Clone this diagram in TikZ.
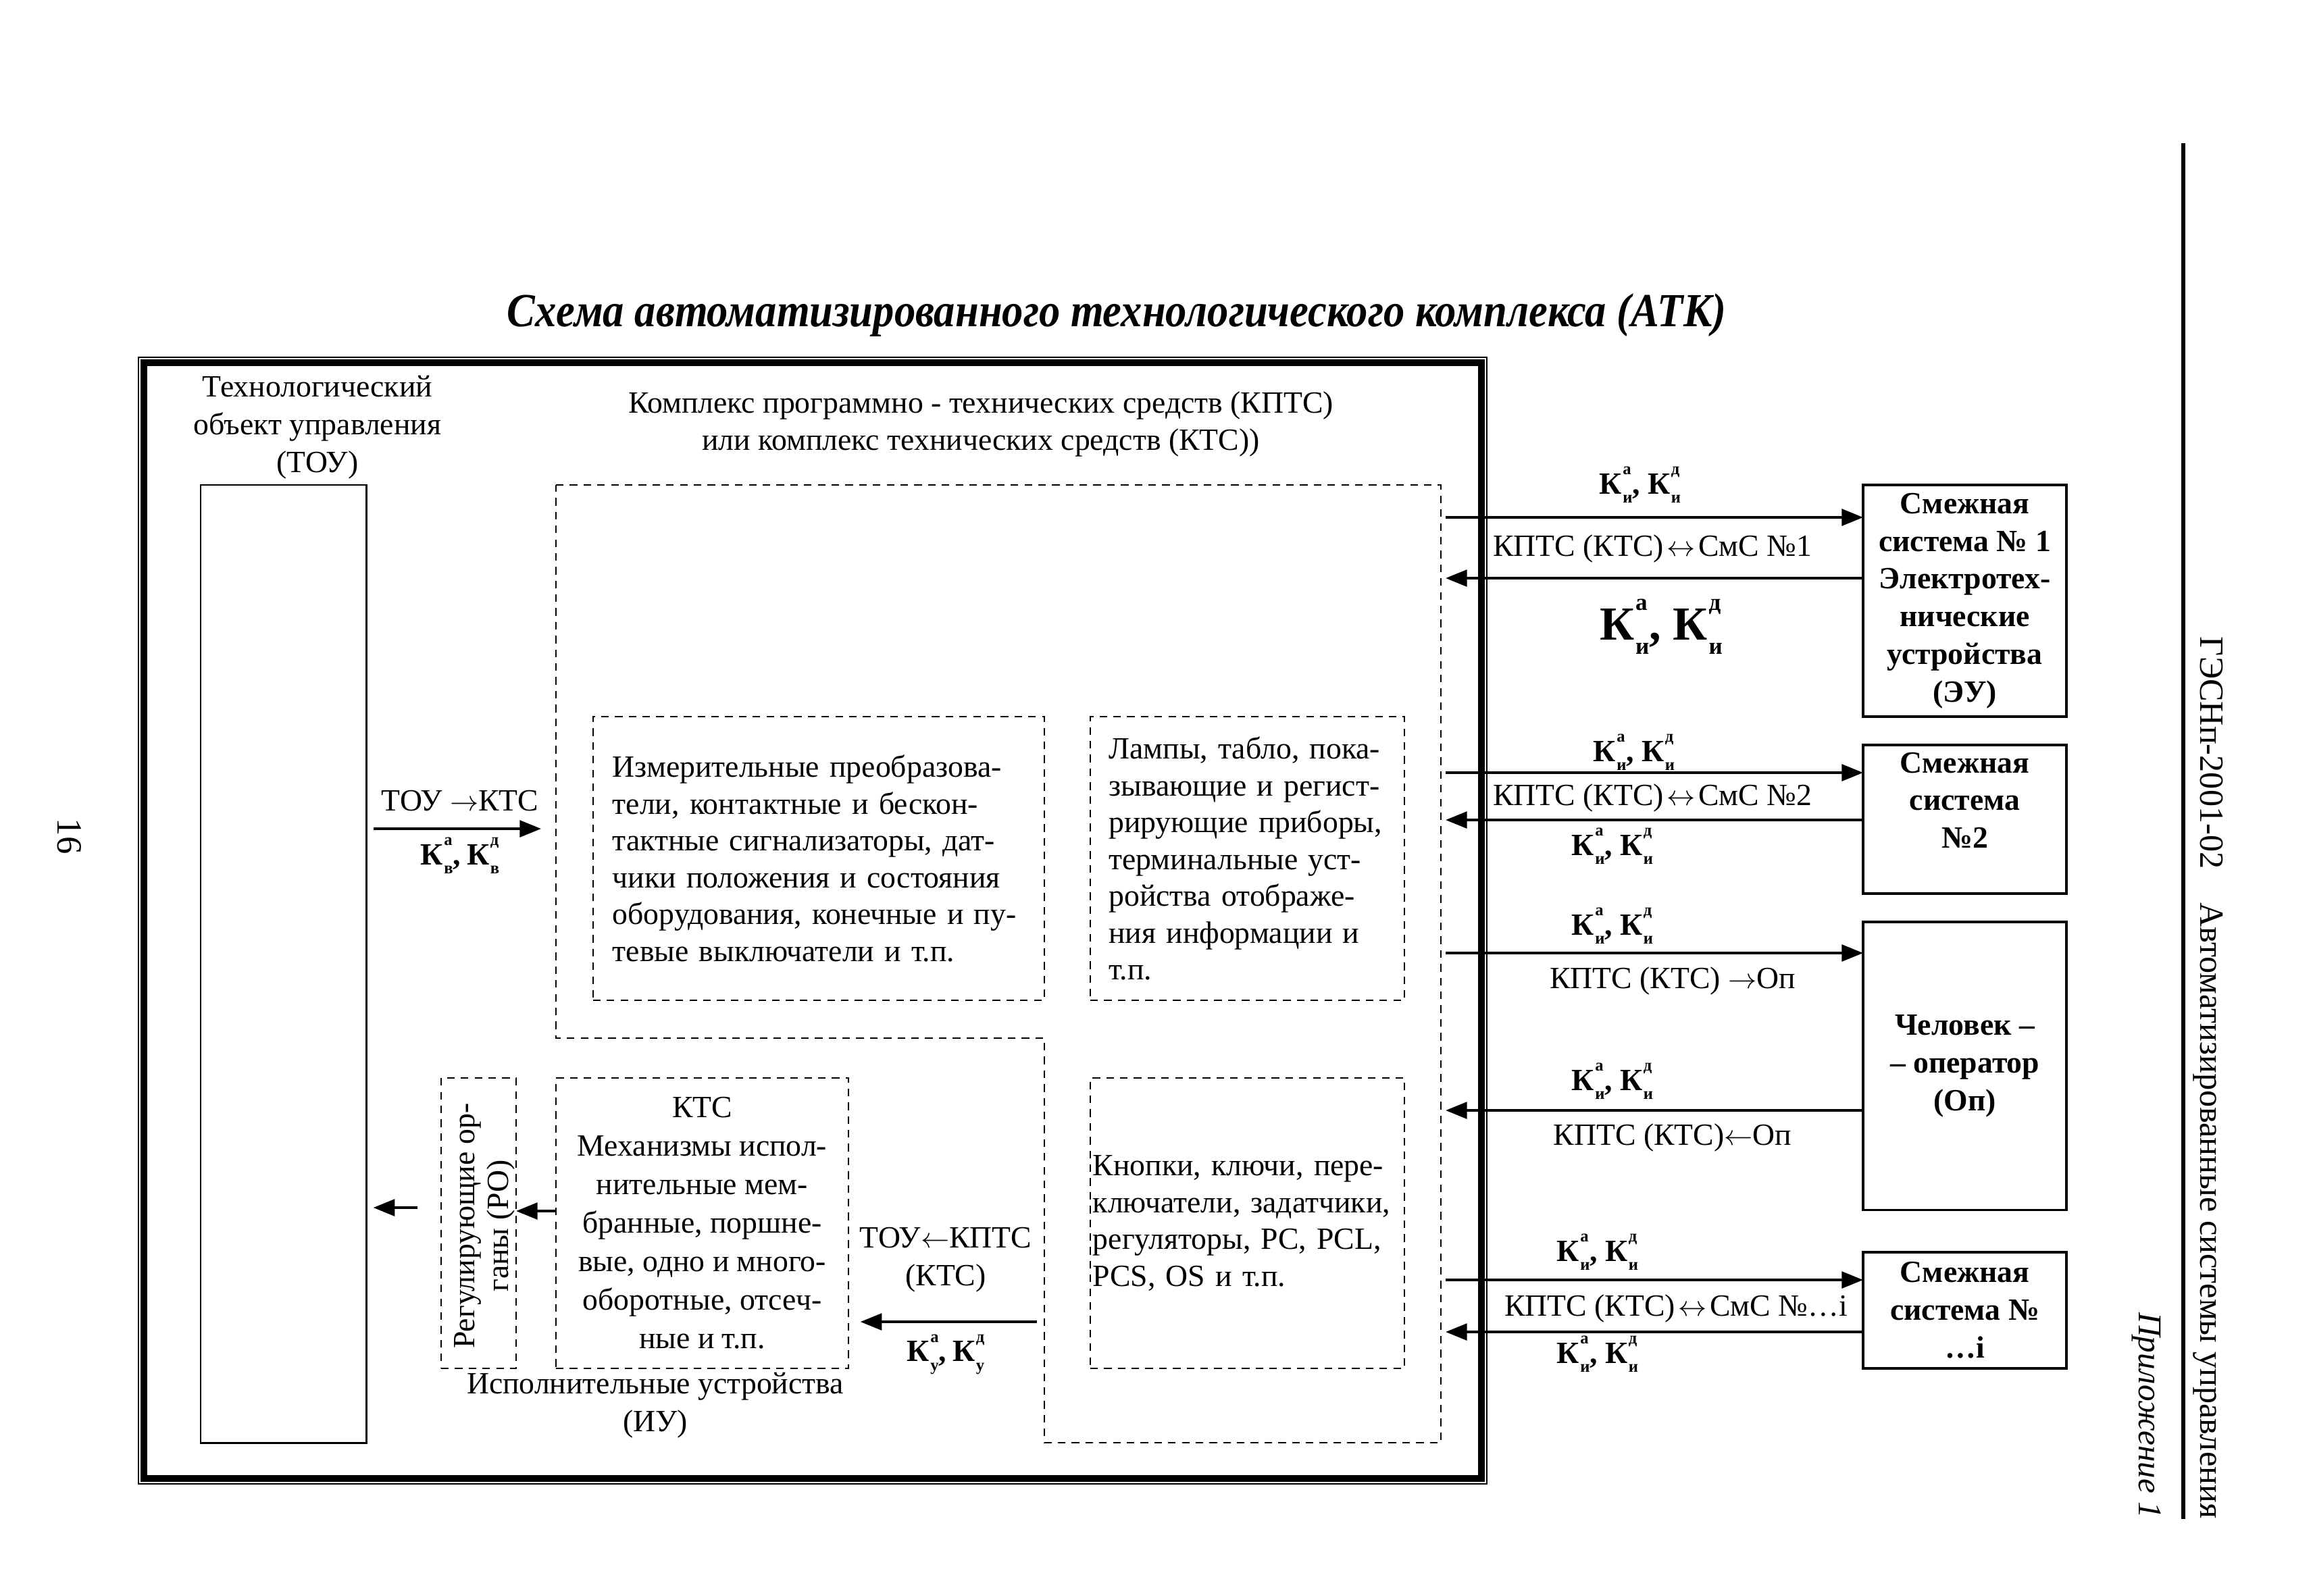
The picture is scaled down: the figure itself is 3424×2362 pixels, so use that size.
\documentclass[tikz,border=0pt]{standalone}
\usepackage{fontspec}
\setmainfont{Liberation Serif}
\newfontfamily\titlefont[FakeStretch=0.89]{Liberation Serif}
\usetikzlibrary{arrows.meta}
\newcommand\Kab[3][7]{\textbf{К}\kern.03em\rlap{\raisebox{.62em}{\fontsize{#1}{#1}\selectfont\bfseries #2}}\raisebox{-.3em}{\fontsize{#1}{#1}\selectfont\bfseries #3}}
\newcommand\KKi[1][7]{\Kab[#1]{а}{и}\textbf{,}\kern.25em\Kab[#1]{д}{и}}
\newcommand\LR{\kern.1em$\leftrightarrow$\kern.1em}
\newcommand\RA{$\rightarrow$}
\newcommand\LA{$\leftarrow$}
\tikzset{
  txt/.style={font=\fontsize{13}{15.9}\selectfont, inner sep=0pt, outer sep=0pt},
  btxt/.style={font=\fontsize{13}{15.9}\selectfont\bfseries, align=center, inner sep=0pt},
  dbox/.style={draw, line width=0.7pt, dash pattern=on 3.2pt off 2.6pt, inner sep=0pt, outer sep=0pt,
               font=\fontsize{13}{15.5}\selectfont},
  sbox/.style={draw, line width=1pt, inner sep=0pt, outer sep=0pt, minimum width=3.01cm, anchor=north west},
  arr/.style={line width=1.1pt, -{Triangle[length=9pt,width=7pt]}},
}
\begin{document}
\begin{tikzpicture}[x=0.01cm,y=-0.01cm]
\useasboundingbox (0,0) rectangle (3424,2362);
\fill[white] (0,0) rectangle (3424,2362);

% title
\node[font=\fontsize{20}{24}\selectfont\titlefont\bfseries\itshape] (title) at (1653,467)
  {Схема автоматизированного технологического комплекса (АТК)};

% frame
\draw[line width=0.7pt] (205,529) rectangle (2201,2197);
\draw[line width=2.8pt] (213,537) rectangle (2193,2189);

% TOU
\node[draw, line width=0.8pt, minimum width=2.45cm, minimum height=14.18cm, anchor=north west,
      inner sep=0pt, outer sep=0pt] (tou) at (297,718) {};
\node[txt, align=center] (toulbl) at (470,633) {Технологический\\объект управления\\(ТОУ)};

% KPTS
\node[txt, align=center] (kptslbl) at (1452,628)
  {Комплекс программно - технических средств (КПТС)\\или комплекс технических средств (КТС))};
\draw[line width=0.7pt, dash pattern=on 3.2pt off 2.6pt]
  (823,718) -- (2133,718) -- (2133,2136) -- (1546,2136) -- (1546,1537) -- (823,1537) -- cycle;

\node[dbox, minimum width=6.68cm, minimum height=4.2cm, text width=6.1cm, align=left] (meas) at (1212,1271)
  {Измерительные преобразова-\\тели, контактные и бескон-\\тактные сигнализаторы, дат-\\чики положения и состояния\\оборудования, конечные и пу-\\тевые выключатели и т.п.};
\node[dbox, minimum width=4.65cm, minimum height=4.2cm, text width=4.1cm, align=left] (lamps) at (1846.5,1271)
  {Лампы, табло, пока-\\зывающие и регист-\\рирующие приборы,\\терминальные уст-\\ройства отображе-\\ния информации и\\т.п.};
\node[dbox, minimum width=4.65cm, minimum height=4.3cm, text width=4.57cm, align=left] (btns) at (1846.5,1811)
  {Кнопки, ключи, пере-\\ключатели, задатчики,\\регуляторы, PC, PCL,\\PCS, OS и т.п.};
\node[dbox, minimum width=4.33cm, minimum height=4.3cm, align=center, font=\fontsize{13}{16.2}\selectfont] (kts) at (1039.5,1811)
  {КТС\\Механизмы испол-\\нительные мем-\\бранные, поршне-\\вые, одно и много-\\оборотные, отсеч-\\ные и т.п.};
\node[dbox, minimum width=1.11cm, minimum height=4.3cm] (ro) at (708.5,1811) {};
\node[txt, rotate=90, align=center, font=\fontsize{13}{14.2}\selectfont] (rolbl) at (717,1815)
  {Регулирующие ор-\\ганы (РО)};
\node[txt, align=center] (iulbl) at (970,2081) {Исполнительные устройства\\(ИУ)};

% left arrows
\coordinate (t1) at (801,1227);
\draw[arr, shorten <=3pt] (tou.east |- t1) -- (t1);
\node[txt] (t1a) at (681,1186) {ТОУ \RA КТС};
\node[txt] (t1b) at (681,1267) {\Kab{а}{в}\textbf{,}\kern.2em\Kab{д}{в}};

\coordinate (t2) at (1535,1957);
\draw[arr, shorten >=5pt] (t2) -- (t2 -| kts.east);
\node[txt, align=center] (t2a) at (1400,1865) {ТОУ\LA КПТС\\(КТС)};
\node[txt] (t2b) at (1400,2005) {\Kab{а}{у}\textbf{,}\kern.2em\Kab{д}{у}};

\coordinate (t3) at (823,1793);
\draw[arr] (t3) -- (t3 -| ro.east);
\coordinate (t4) at (618,1788);
\draw[arr, shorten >=3pt] (t4) -- (t4 -| tou.east);

% right boxes
\node[sbox, minimum height=3.43cm] (smc1) at (2758,718) {};
\node[btxt] (smc1t) at (smc1.center) {Смежная\\система № 1\\Электротех-\\нические\\устройства\\(ЭУ)};
\node[sbox, minimum height=2.2cm] (smc2) at (2758,1103) {};
\node[btxt, anchor=north] (smc2t) at (2908.5,1113) {Смежная\\система\\№2};
\node[sbox, minimum height=4.26cm] (op) at (2758,1365) {};
\node[btxt] (opt) at (op.center) {Человек –\\– оператор\\(Оп)};
\node[sbox, minimum height=1.72cm] (smci) at (2758,1854) {};
\node[btxt] (smcit) at (smci.center) {Смежная\\система №\\…i};

% right arrows
\coordinate (r1) at (2140,766);  \draw[arr] (r1) -- (r1 -| smc1.west);
\coordinate (r2) at (2140,856);  \draw[arr] (r2 -| smc1.west) -- (r2);
\coordinate (r3) at (2140,1144); \draw[arr] (r3) -- (r3 -| smc2.west);
\coordinate (r4) at (2140,1214); \draw[arr] (r4 -| smc2.west) -- (r4);
\coordinate (r5) at (2140,1411); \draw[arr] (r5) -- (r5 -| op.west);
\coordinate (r6) at (2140,1644); \draw[arr] (r6 -| op.west) -- (r6);
\coordinate (r7) at (2140,1895); \draw[arr] (r7) -- (r7 -| smci.west);
\coordinate (r8) at (2140,1972); \draw[arr] (r8 -| smci.west) -- (r8);

\node[txt] (l1) at (2428,718) {\KKi};
\node[txt] (l2) at (2446,812) {КПТС (КТС)\LR СмС №1};
\node[txt, font=\fontsize{20}{24}\selectfont] (l3) at (2459,928) {\KKi[10]};
\node[txt] (l4) at (2419,1114) {\KKi};
\node[txt] (l5) at (2446,1181) {КПТС (КТС)\LR СмС №2};
\node[txt] (l6) at (2387,1253) {\KKi};
\node[txt] (l7) at (2387,1371) {\KKi};
\node[txt] (l8) at (2476,1452) {КПТС (КТС) \RA Оп};
\node[txt] (l9) at (2387,1601) {\KKi};
\node[txt] (l10) at (2476,1684) {КПТС (КТС)\LA Оп};
\node[txt] (l11) at (2365,1854) {\KKi};
\node[txt] (l12) at (2481,1937) {КПТС (КТС)\LR СмС №…i};
\node[txt] (l13) at (2365,2005) {\KKi};

% margins
\draw[line width=1.6pt] (3232,212) -- (3232,2249);
\node[rotate=-90, anchor=east, inner sep=0pt, font=\fontsize{14.3}{17}\selectfont] (hdr) at (3269,2249)
  {ГЭСНп-2001-02\quad Автоматизированные системы управления};
\node[rotate=-90, anchor=east, inner sep=0pt, font=\fontsize{14}{17}\selectfont\itshape] (app) at (3177,2249)
  {Приложение 1};
\node[rotate=-90, font=\fontsize{15}{18}\selectfont] (pg) at (103,1238) {16};
\end{tikzpicture}
\end{document}
